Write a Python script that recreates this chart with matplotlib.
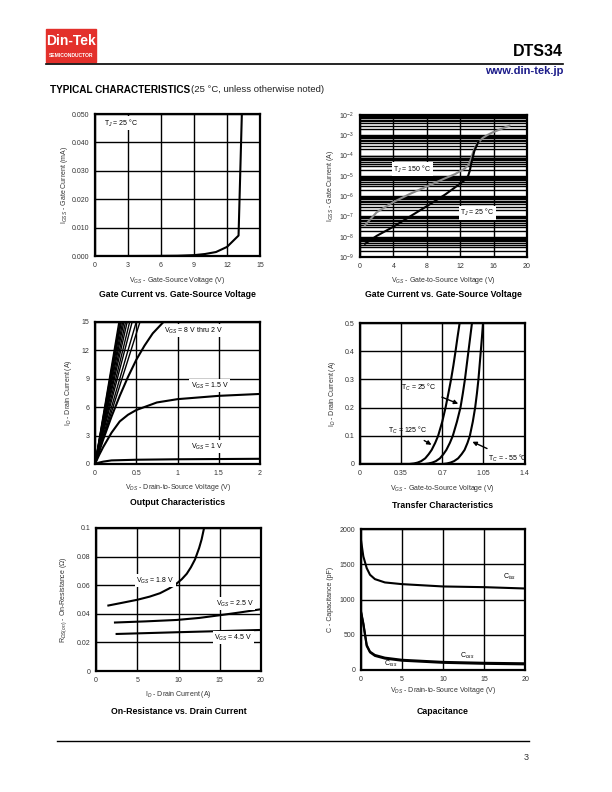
import matplotlib
matplotlib.use("Agg")
import matplotlib.pyplot as plt
from matplotlib.ticker import LogLocator, NullFormatter
from matplotlib.patches import Rectangle
from matplotlib.lines import Line2D
import numpy as np

plt.rcParams['font.family'] = ['Liberation Sans', 'DejaVu Sans']
plt.rcParams['mathtext.fontset'] = 'custom'
plt.rcParams['mathtext.rm'] = 'Liberation Sans'
plt.rcParams['mathtext.it'] = 'Liberation Sans:italic'
plt.rcParams['mathtext.bf'] = 'Liberation Sans:bold'

W, H = 612, 792

# ---- data ----
# gate current (linear, mA)
igss_v = [0, 3, 6, 7.5, 9, 10, 11, 12, 13.05, 13.35]
igss_ma = [0, 0, 0.00005, 0.0001, 0.0003, 0.0007, 0.0014, 0.0032, 0.0072, 0.05]

# gate current (log, A)
ig150_v = [0.6, 2, 4, 6, 8, 10, 11.35, 12.55, 13.0, 13.3, 13.55, 13.8, 14.1, 14.7, 15.3, 15.9, 17.9]
ig150_a = [3.7e-8, 1.6e-7, 5.1e-7, 1.3e-6, 3.0e-6, 7.0e-6, 1.2e-5, 2.3e-5, 3.5e-5, 7.0e-5,
           1.5e-4, 2.6e-4, 4.2e-4, 7.4e-4, 1.05e-3, 1.4e-3, 3.0e-3]
ig25_v = [0.6, 2, 4, 6, 8, 10.2, 11.95, 12.55, 12.95, 13.15, 13.3, 13.5, 13.7, 14.2]
ig25_a = [4.5e-9, 1.1e-8, 3.1e-8, 1.0e-7, 3.2e-7, 1.2e-6, 4.0e-6, 6.3e-6, 1.0e-5, 1.8e-5,
          3.7e-5, 8.0e-5, 1.7e-4, 5.0e-4]

# output characteristics
steep_vds_at_15a = [0.29, 0.30, 0.31, 0.32, 0.335, 0.35, 0.37, 0.39, 0.42, 0.45, 0.50, 0.545]
out2_vds = [0, 0.1, 0.2, 0.3, 0.4, 0.5, 0.6, 0.7, 0.83]
out2_id = [0, 2.6, 5.0, 7.2, 9.2, 11.0, 12.5, 13.8, 15.0]
out15_vds = [0, 0.05, 0.1, 0.2, 0.3, 0.4, 0.5, 0.75, 1.0, 1.5, 2.0]
out15_id = [0, 0.95, 1.8, 3.3, 4.5, 5.2, 5.7, 6.5, 6.85, 7.2, 7.4]
out1_vds = [0, 0.05, 0.1, 0.2, 0.5, 1.0, 2.0]
out1_id = [0, 0.15, 0.25, 0.38, 0.45, 0.5, 0.55]

# transfer characteristics
tr_id = [0, 0, 0.002, 0.005, 0.01, 0.02, 0.035, 0.05, 0.075, 0.1, 0.15, 0.2,
         0.25, 0.3, 0.35, 0.4, 0.45, 0.5]
tr125_vgs = [0, 0.42, 0.46, 0.49, 0.52, 0.555, 0.585, 0.61, 0.64, 0.665, 0.70, 0.728,
             0.752, 0.775, 0.795, 0.813, 0.83, 0.848]
tr25_vgs = [0, 0.55, 0.585, 0.615, 0.645, 0.68, 0.71, 0.735, 0.765, 0.79, 0.825, 0.855,
            0.875, 0.893, 0.908, 0.923, 0.938, 0.953]
trm55_vgs = [0, 0.70, 0.74, 0.77, 0.80, 0.835, 0.865, 0.89, 0.915, 0.935, 0.96, 0.98,
             0.995, 1.008, 1.018, 1.028, 1.038, 1.047]

# on-resistance
r18_id = [1.5, 3, 5.0, 6.5, 7.76, 8.8, 9.6, 10.4, 11.0, 11.5, 12.0, 12.5, 12.8, 13.1]
r18_r = [0.0458, 0.0475, 0.0498, 0.052, 0.0544, 0.0575, 0.0603, 0.0642, 0.068, 0.0725,
         0.078, 0.086, 0.092, 0.1]
r25_id = [2.3, 6, 9.8, 12.5, 15, 17.5, 20]
r25_r = [0.0339, 0.0347, 0.0357, 0.0371, 0.039, 0.041, 0.0432]
r45_id = [2.5, 9.8, 15, 20]
r45_r = [0.0259, 0.0271, 0.0279, 0.0287]

# capacitance
cap_v = [0, 0.32, 0.73, 1.13, 1.73, 2.94, 5, 10, 15, 20]
ciss = [1870, 1611, 1445, 1351, 1289, 1242, 1218, 1185, 1175, 1156]
coss = [853, 664, 355, 261, 213, 175, 145, 115, 102, 95]
crss = [840, 650, 340, 250, 200, 162, 132, 102, 88, 80]


def rect(l, t, r, b):
    return [l / W, 1 - b / H, (r - l) / W, (b - t) / H]


def style(ax, xlim, ylim, xt, xtl, yt, ytl):
    ax.set_xlim(xlim)
    ax.set_ylim(ylim)
    if xt is not None:
        ax.set_xticks(xt)
        ax.set_xticklabels(xtl)
    if yt is not None:
        ax.set_yticks(yt)
        ax.set_yticklabels(ytl)
    ax.tick_params(length=0, labelsize=5, pad=4, colors='#333333')
    ax.grid(True, color='black', lw=1.0)
    for s in ax.spines.values():
        s.set_linewidth(1.6)
    ax.set_axisbelow(True)


def labels(ax, xl, yl, lab_y, ylab_x, title, title_y, box):
    l, t, r, b = box
    fig.text((l + r) / 2 / W, 1 - lab_y / H, xl, fontsize=5, ha='center', va='center', color='#333333')
    fig.text(ylab_x / W, 1 - (t + b) / 2 / H, yl, fontsize=5, ha='center', va='center',
             rotation=90, color='#333333')
    fig.text((l + r) / 2 / W, 1 - title_y / H, title, fontsize=6.3, fontweight='bold',
             ha='center', va='center')


fig = plt.figure(figsize=(W / 100, H / 100), dpi=100)

# ---- header ----
fig.patches.append(Rectangle((46 / W, 1 - 62 / H), 50 / W, 33 / H, transform=fig.transFigure,
                             color='#e3302b', zorder=1))
fig.text(71 / W, 1 - 41 / H, 'Din-Tek', fontsize=10, fontweight='bold', color='white',
         ha='center', va='center')
fig.text(71 / W, 1 - 55.5 / H, 'SEMICONDUCTOR', fontsize=3.6, fontweight='bold', color='white',
         ha='center', va='center')
fig.lines.append(Line2D([46 / W, 563 / W], [1 - 63.5 / H, 1 - 63.5 / H], transform=fig.transFigure,
                        color='black', lw=1.2))
fig.text(563 / W, 1 - 52 / H, 'DTS34', fontsize=11.5, fontweight='bold', ha='right', va='center')
fig.text(563 / W, 1 - 71 / H, 'www.din-tek.jp', fontsize=8, fontweight='bold', color='#1c1c8a',
         ha='right', va='center')
fig.text(50 / W, 1 - 90 / H, 'TYPICAL CHARACTERISTICS', fontsize=7.2, fontweight='bold',
         ha='left', va='center')
fig.text(191 / W, 1 - 90 / H, '(25 °C, unless otherwise noted)', fontsize=6.8, ha='left', va='center',
         color='#222222')

# ---- footer ----
fig.lines.append(Line2D([57 / W, 529 / W], [1 - 741 / H, 1 - 741 / H], transform=fig.transFigure,
                        color='black', lw=1.0))
fig.text(529 / W, 1 - 758 / H, '3', fontsize=6.5, ha='right', va='center', color='#333333')

lw = 1.5
wbox = dict(facecolor='white', edgecolor='none', pad=1)

# ---- 1: gate current linear ----
b1 = (95, 114, 260, 256)
ax1 = fig.add_axes(rect(*b1))
style(ax1, (0, 15), (0, 0.05), [0, 3, 6, 9, 12, 15], ['0', '3', '6', '9', '12', '15'],
      [0, 0.01, 0.02, 0.03, 0.04, 0.05], ['0.000', '0.010', '0.020', '0.030', '0.040', '0.050'])
ax1.plot(igss_v, igss_ma, color='black', lw=lw)
ax1.text(0.8, 0.0468, 'T$_{J}$ = 25 °C', fontsize=5, va='center', bbox=wbox)
labels(ax1, 'V$_{GS}$ - Gate-Source Voltage (V)', 'I$_{GSS}$ - Gate Current (mA)', 280, 64,
       'Gate Current vs. Gate-Source Voltage', 295, b1)

# ---- 2: gate current log ----
b2 = (360, 115, 527, 257)
ax2 = fig.add_axes(rect(*b2))
ax2.set_yscale('log')
style(ax2, (0, 20), (1e-9, 1e-2), [0, 4, 8, 12, 16, 20], ['0', '4', '8', '12', '16', '20'], None, None)
ax2.yaxis.set_major_locator(LogLocator(base=10, numticks=10))
ax2.yaxis.set_minor_locator(LogLocator(base=10, subs=np.arange(2, 10), numticks=20))
ax2.yaxis.set_minor_formatter(NullFormatter())
ax2.tick_params(which='minor', length=0)
ax2.grid(True, which='minor', axis='y', color='black', lw=1.0)
ax2.plot(ig150_v, ig150_a, color='#8a8a8a', lw=lw)
ax2.plot(ig25_v, ig25_a, color='black', lw=lw)
ax2.text(4.0, 2.1e-5, 'T$_{J}$ = 150 °C', fontsize=5, va='center', bbox=wbox)
ax2.text(12.0, 1.55e-7, 'T$_{J}$ = 25 °C', fontsize=5, va='center', bbox=wbox)
labels(ax2, 'V$_{GS}$ - Gate-to-Source Voltage (V)', 'I$_{GSS}$ - Gate Current (A)', 281, 330,
       'Gate Current vs. Gate-Source Voltage', 295, b2)

# ---- 3: output characteristics ----
b3 = (95, 322, 260, 464)
ax3 = fig.add_axes(rect(*b3))
style(ax3, (0, 2), (0, 15), [0, 0.5, 1, 1.5, 2], ['0', '0.5', '1', '1.5', '2'],
      [0, 3, 6, 9, 12, 15], ['0', '3', '6', '9', '12', '15'])
for v in steep_vds_at_15a:
    ax3.plot([0, v], [0, 15], color='black', lw=1.0)
ax3.plot(out2_vds, out2_id, color='black', lw=lw)
ax3.plot(out15_vds, out15_id, color='black', lw=lw)
ax3.plot(out1_vds, out1_id, color='black', lw=lw)
ax3.text(0.84, 14.1, 'V$_{GS}$ = 8 V thru 2 V', fontsize=5, va='center', bbox=wbox)
ax3.text(1.16, 8.3, 'V$_{GS}$ = 1.5 V', fontsize=5, va='center', bbox=wbox)
ax3.text(1.16, 1.8, 'V$_{GS}$ = 1 V', fontsize=5, va='center', bbox=wbox)
labels(ax3, 'V$_{DS}$ - Drain-to-Source Voltage (V)', 'I$_{D}$ - Drain Current (A)', 487, 68,
       'Output Characteristics', 503, b3)

# ---- 4: transfer characteristics ----
b4 = (360, 323, 524.5, 464)
ax4 = fig.add_axes(rect(*b4))
style(ax4, (0, 1.4), (0, 0.5), [0, 0.35, 0.7, 1.05, 1.4], ['0', '0.35', '0.7', '1.05', '1.4'],
      [0, 0.1, 0.2, 0.3, 0.4, 0.5], ['0', '0.1', '0.2', '0.3', '0.4', '0.5'])
for vg in (tr125_vgs, tr25_vgs, trm55_vgs):
    ax4.plot(vg, tr_id, color='black', lw=lw)
arr = dict(arrowstyle='-|>', color='black', lw=1.0, mutation_scale=6)
ax4.annotate('T$_{C}$ = 25 °C', xy=(0.858, 0.21), xytext=(0.35, 0.27), fontsize=5, va='center',
             arrowprops=arr)
ax4.annotate('T$_{C}$ = 125 °C', xy=(0.629, 0.063), xytext=(0.238, 0.118), fontsize=5, va='center',
             arrowprops=arr)
ax4.annotate('T$_{C}$ = - 55 °C', xy=(0.935, 0.083), xytext=(1.088, 0.021), fontsize=5, va='center',
             arrowprops=arr)
labels(ax4, 'V$_{GS}$ - Gate-to-Source Voltage (V)', 'I$_{D}$ - Drain Current (A)', 488, 333,
       'Transfer Characteristics', 505, b4)

# ---- 5: on-resistance ----
b5 = (96, 528, 261, 671)
ax5 = fig.add_axes(rect(*b5))
style(ax5, (0, 20), (0, 0.1), [0, 5, 10, 15, 20], ['0', '5', '10', '15', '20'],
      [0, 0.02, 0.04, 0.06, 0.08, 0.1], ['0', '0.02', '0.04', '0.06', '0.08', '0.1'])
ax5.plot(r18_id, r18_r, color='black', lw=lw)
ax5.plot(r25_id, r25_r, color='black', lw=lw)
ax5.plot(r45_id, r45_r, color='black', lw=lw)
ax5.text(4.85, 0.0633, 'V$_{GS}$ = 1.8 V', fontsize=5, va='center', bbox=wbox)
ax5.text(14.5, 0.047, 'V$_{GS}$ = 2.5 V', fontsize=5, va='center', bbox=wbox)
ax5.text(14.3, 0.0233, 'V$_{GS}$ = 4.5 V', fontsize=5, va='center', bbox=wbox)
labels(ax5, 'I$_{D}$ - Drain Current (A)', 'R$_{DS(on)}$ - On-Resistance (Ω)', 695, 64,
       'On-Resistance vs. Drain Current', 711, b5)

# ---- 6: capacitance ----
b6 = (360.7, 529, 525.3, 670)
ax6 = fig.add_axes(rect(*b6))
style(ax6, (0, 20), (0, 2000), [0, 5, 10, 15, 20], ['0', '5', '10', '15', '20'],
      [0, 500, 1000, 1500, 2000], ['0', '500', '1000', '1500', '2000'])
ax6.plot(cap_v, ciss, color='black', lw=lw)
ax6.plot(cap_v, coss, color='black', lw=lw)
ax6.plot(cap_v, crss, color='black', lw=lw)
ax6.text(17.25, 1314, 'C$_{iss}$', fontsize=5, va='center')
ax6.text(12.07, 201, 'C$_{oss}$', fontsize=5, va='center')
ax6.text(2.83, 85, 'C$_{rss}$', fontsize=5, va='center')
labels(ax6, 'V$_{DS}$ - Drain-to-Source Voltage (V)', 'C - Capacitance (pF)', 690, 330,
       'Capacitance', 711, b6)

fig.savefig('out.png', dpi=100)
